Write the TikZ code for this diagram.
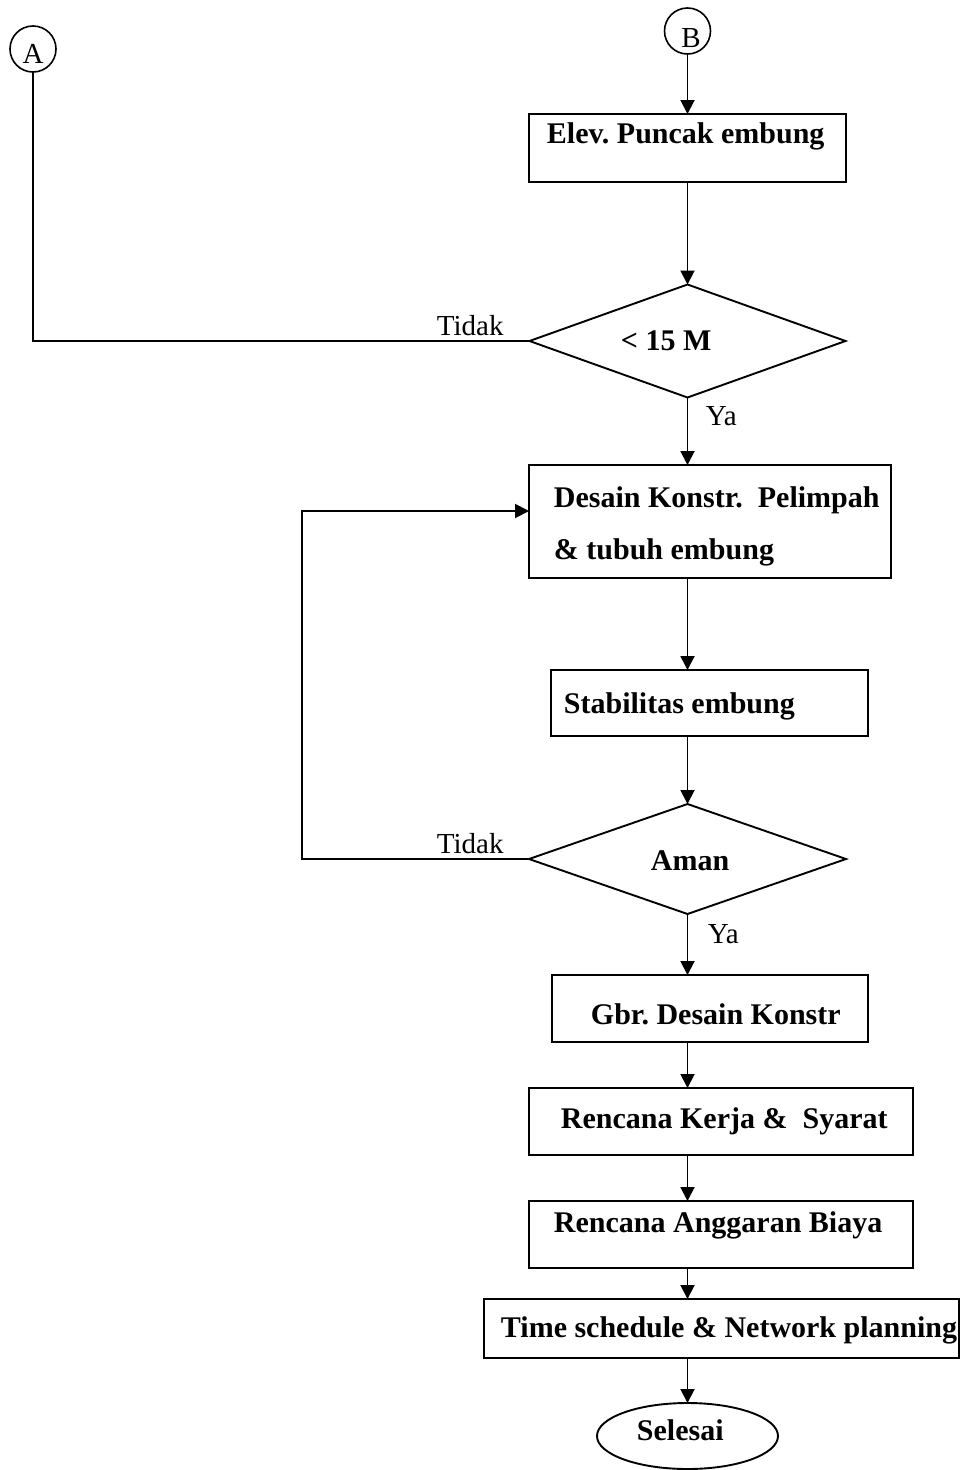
\documentclass[tikz,border=0pt]{standalone}
\usepackage{fontspec}
\setmainfont{Liberation Serif}
\usetikzlibrary{arrows.meta,shapes.geometric,calc}
\frenchspacing
\begin{document}
\begin{tikzpicture}[x=1pt,y=-1pt,line width=1.9pt,
  arr/.style={-{Triangle[length=14pt,width=14pt]}},
  stepbox/.style={draw,rectangle,inner sep=0pt,outer sep=0pt},
  test/.style={draw,diamond,inner sep=0pt,outer sep=0pt},
  conn/.style={draw,circle,inner sep=0pt,outer sep=0pt,minimum size=46pt,line width=1.6pt},
  term/.style={draw,ellipse,inner sep=0pt,outer sep=0pt},
  lbl/.style={anchor=base west,inner sep=0pt,font=\fontsize{30}{36}\selectfont\bfseries},
  note/.style={anchor=base west,inner sep=0pt,font=\fontsize{29}{34}\selectfont},
  ctr/.style={anchor=base,inner sep=0pt,font=\fontsize{29}{34}\selectfont}]
\useasboundingbox (0,0) rectangle (962,1470);

% connectors
\node[conn] (A) at (33,49) {};
\node[ctr] (Atxt) at (33,63) {A};
\node[conn] (B) at (687.5,31) {};
\node[ctr] (Btxt) at (691,47) {B};

% process boxes and decisions
\node[stepbox,minimum width=317pt,minimum height=68pt] (b1) at (687.5,148) {};
\node[test,minimum width=316pt,minimum height=113pt] (d1) at (687.5,341) {};
\node[stepbox,minimum width=362pt,minimum height=113pt] (b2) at (710,521.5) {};
\node[stepbox,minimum width=317pt,minimum height=66pt] (b3) at (709.5,703) {};
\node[test,minimum width=317pt,minimum height=110pt] (d2) at (687.5,859) {};
\node[stepbox,minimum width=316pt,minimum height=67pt] (b4) at (710,1008.5) {};
\node[stepbox,minimum width=384pt,minimum height=67pt] (b5) at (721,1121.5) {};
\node[stepbox,minimum width=384pt,minimum height=67pt] (b6) at (721,1234.5) {};
\node[stepbox,minimum width=475pt,minimum height=59pt] (b7) at (721.5,1328.5) {};
\node[term,minimum width=181pt,minimum height=66pt] (end) at (687.5,1436) {};

% texts
\node[lbl] (t1) at (546,143) {Elev. Puncak embung};
\node[lbl] (t2) at (620,350) {< 15 M};
\node[lbl] (t3a) at (553,507) {Desain Konstr.\ \ Pelimpah};
\node[lbl] (t3b) at (553,559) {\& tubuh embung};
\node[lbl] (t4) at (563,713) {Stabilitas embung};
\node[lbl] (t5) at (650,870) {Aman};
\node[lbl] (t6) at (590,1024) {Gbr. Desain Konstr};
\node[lbl] (t7) at (560,1128) {Rencana Kerja \&\ \ Syarat};
\node[lbl] (t8) at (553,1232) {Rencana Anggaran Biaya};
\node[lbl] (t9) at (500,1337) {Time schedule \& Network planning};
\node[lbl] (t10) at (636,1440) {Selesai};

\node[note] (n1) at (436,335) {Tidak};
\node[note] (n2) at (705,425) {Ya};
\node[note] (n3) at (436,853) {Tidak};
\node[note] (n4) at (707,943) {Ya};

% flow lines
\draw (A.south) -- (A.south |- d1.west) -- (d1.west);
\draw[arr] (B.south) -- (B.south |- b1.north);
\draw[arr] (b1.south -| B) -- (d1.north);
\draw[arr] (d1.south) -- (d1.south |- b2.north);
\draw[arr] (b2.south -| B) -- (b3.north -| B);
\draw[arr] (b3.south -| B) -- (d2.north);
\draw[arr] (d2.south) -- (d2.south |- b4.north);
\draw[arr] (b4.south -| B) -- (b5.north -| B);
\draw[arr] (b5.south -| B) -- (b6.north -| B);
\draw[arr] (b6.south -| B) -- (b7.north -| B);
\draw[arr] (b7.south -| B) -- (end.north);

% return path from the second decision
\coordinate (lp) at ($(b2.west)+(0,-10.5)$);
\coordinate (lb) at (302,859);
\draw[arr] (d2.west) -- (lb) -- (lb |- lp) -- (lp);
\end{tikzpicture}
\end{document}
